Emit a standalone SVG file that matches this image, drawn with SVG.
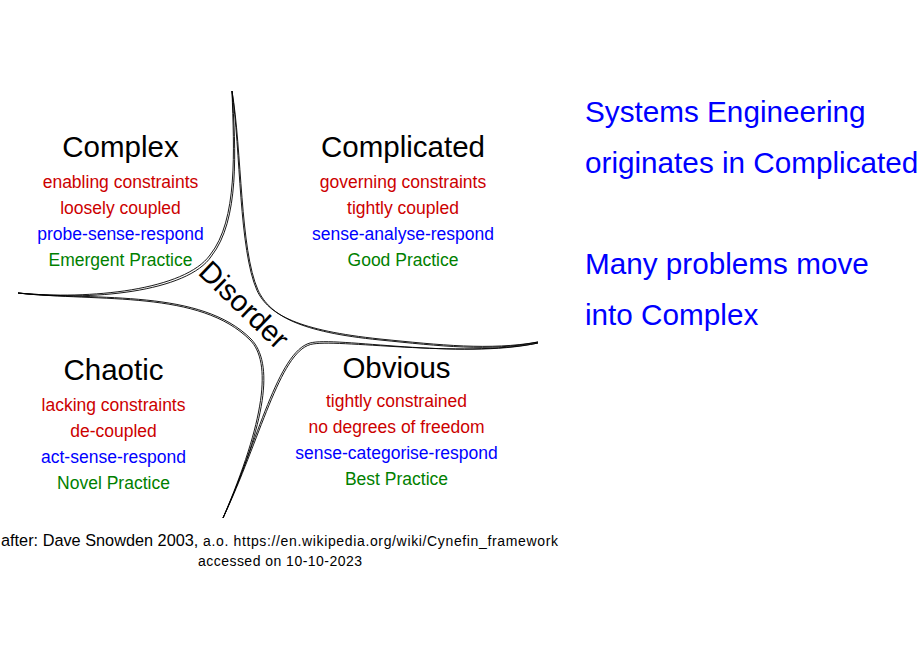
<svg xmlns="http://www.w3.org/2000/svg" width="920" height="660" viewBox="0 0 920 660">
<style>
text{font-family:"Liberation Sans",Arial,sans-serif}
.title{font-size:29.5px;fill:#000;text-anchor:middle}
.lbl{font-size:17.5px;text-anchor:middle}
.r{fill:#cc0000}
.b{fill:#0000ff}
.g{fill:#008000}
.side{font-size:29.7px;fill:#0000ff}
.curve{fill:none;stroke:#000;stroke-width:0.9;stroke-linejoin:round}
</style>
<rect width="920" height="660" fill="#fff"/>
<g id="connectors">
<path class="curve" d="M232,91 C234,150 238,220 210,255 C185,290 90,300 18,293 C90,301.5 188,292 211.5,256 C239.5,220.5 236,150 232,91 Z"/>
<path class="curve" d="M232,91 C242,150 240,250 258,290 C270,316 300,332 380,340 C440,346 490,352 538,342 C490,350.5 440,345 380,339 C299,330.5 268.5,315 257,290.5 C239,250 240.5,150 232,91 Z"/>
<path class="curve" d="M18,293 C100,302 200,290 250,340 C272,362 265,420 223,518 C267,420 274,363 251,339 C201,289 100,300.5 18,293 Z"/>
<path class="curve" d="M223,518 C258,440 278,352 310,343 C335,336 460,360 538,343 C460,358.5 335,338 310.5,344.5 C279.5,353 260,440 223,518 Z"/>
</g>
<g id="complex">
<text class="title" x="120.5" y="157">Complex</text>
<text class="lbl r" x="120.5" y="188">enabling constraints</text>
<text class="lbl r" x="120.5" y="214">loosely coupled</text>
<text class="lbl b" x="120.5" y="240">probe-sense-respond</text>
<text class="lbl g" x="120.5" y="266">Emergent Practice</text>
</g>
<g id="complicated">
<text class="title" x="403" y="157">Complicated</text>
<text class="lbl r" x="403" y="188">governing constraints</text>
<text class="lbl r" x="403" y="214">tightly coupled</text>
<text class="lbl b" x="403" y="240">sense-analyse-respond</text>
<text class="lbl g" x="403" y="266">Good Practice</text>
</g>
<g id="chaotic">
<text class="title" x="113.5" y="380">Chaotic</text>
<text class="lbl r" x="113.5" y="411">lacking constraints</text>
<text class="lbl r" x="113.5" y="437">de-coupled</text>
<text class="lbl b" x="113.5" y="463">act-sense-respond</text>
<text class="lbl g" x="113.5" y="489">Novel Practice</text>
</g>
<g id="obvious">
<text class="title" x="396.5" y="378">Obvious</text>
<text class="lbl r" x="396.5" y="407">tightly constrained</text>
<text class="lbl r" x="396.5" y="433">no degrees of freedom</text>
<text class="lbl b" x="396.5" y="459">sense-categorise-respond</text>
<text class="lbl g" x="396.5" y="485">Best Practice</text>
</g>
<g id="disorder">
<text class="title" transform="translate(244,305) rotate(44)" x="0" y="10">Disorder</text>
</g>
<g id="note">
<text class="side" x="585" y="122">Systems Engineering</text>
<text class="side" x="585" y="173">originates in Complicated</text>
<text class="side" x="585" y="274">Many problems move</text>
<text class="side" x="585" y="325">into Complex</text>
</g>
<g id="footer">
<text x="1" y="546" font-size="16.3" fill="#000">after: Dave Snowden 2003,<tspan x="203" font-size="14" textLength="355" lengthAdjust="spacing">a.o. https://en.wikipedia.org/wiki/Cynefin_framework</tspan></text>
<text x="198" y="566" font-size="14" fill="#000" textLength="164" lengthAdjust="spacing">accessed on 10-10-2023</text>
</g>
</svg>
